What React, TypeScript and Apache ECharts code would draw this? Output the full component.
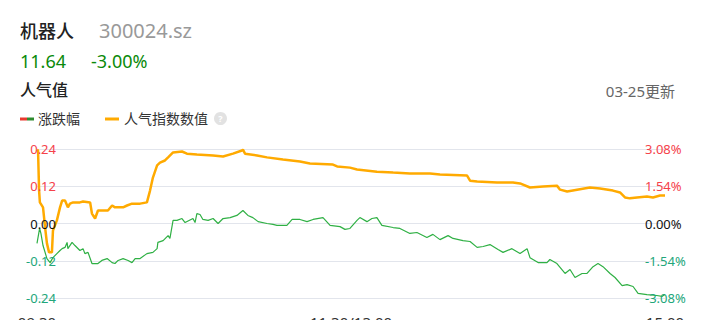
import React, { useEffect, useRef } from "react";
import * as echarts from "echarts";

// minutes since 09:30 (trading minutes, 0..240) and values
const heatMinutes = [0, 0.4, 0.8, 1.1, 2.3, 3.1, 3.8, 4.6, 5.7, 6.1, 7.6, 8.8, 9.6, 10.7, 11.8, 12.6, 13.8, 16.4, 17.6, 20.3, 21.0, 22.2, 23.3, 25.2, 27.1, 28.7, 29.8, 31.0, 32.9, 34.4, 36.3, 39.4, 42.0, 43.2, 44.3, 45.9, 47.0, 48.9, 50.1, 52.0, 55.4, 57.3, 61.1, 67.3, 71.1, 74.9, 78.3, 78.7, 79.5, 84.1, 87.9, 94.0, 100.5, 104.3, 113.1, 114.7, 119.6, 122.3, 129.9, 136.1, 142.5, 150.2, 154.0, 164.3, 165.5, 168.2, 175.8, 181.9, 184.6, 188.4, 193.4, 198.7, 199.9, 202.6, 206.4, 211.3, 215.2, 220.1, 222.8, 224.7, 226.6, 229.3, 233.1, 235.4, 238.1, 240];
const heatValues = [0.238, 0.235, 0.106, 0.068, 0.052, -0.013, -0.064, -0.093, -0.093, -0.023, 0.010, 0.052, 0.074, 0.074, 0.052, 0.064, 0.068, 0.068, 0.071, 0.068, 0.032, 0.016, 0.042, 0.042, 0.042, 0.058, 0.052, 0.052, 0.052, 0.058, 0.064, 0.064, 0.068, 0.106, 0.148, 0.187, 0.196, 0.203, 0.213, 0.229, 0.232, 0.225, 0.222, 0.219, 0.216, 0.225, 0.235, 0.238, 0.225, 0.219, 0.213, 0.206, 0.200, 0.193, 0.190, 0.184, 0.180, 0.174, 0.167, 0.164, 0.161, 0.161, 0.158, 0.155, 0.138, 0.135, 0.132, 0.132, 0.129, 0.116, 0.119, 0.122, 0.109, 0.103, 0.109, 0.116, 0.113, 0.106, 0.100, 0.084, 0.081, 0.084, 0.087, 0.084, 0.090, 0.090];

const changeMinutes = [0, 1.0, 1.5, 2.3, 3.8, 5.0, 6.1, 7.6, 8.8, 9.6, 10.7, 11.5, 11.8, 13.4, 14.5, 16.4, 17.6, 18.3, 19.5, 21.0, 23.3, 24.8, 26.8, 28.7, 29.8, 31.0, 32.9, 34.8, 36.3, 37.5, 39.4, 42.0, 44.3, 45.9, 46.2, 48.2, 50.1, 50.8, 52.0, 53.5, 55.4, 56.6, 59.6, 60.4, 61.1, 62.3, 63.4, 65.4, 67.3, 69.2, 71.1, 73.8, 76.4, 78.7, 80.6, 82.5, 84.5, 87.9, 90.2, 91.7, 95.5, 97.5, 100.5, 103.2, 105.5, 109.3, 112.0, 115.8, 117.7, 119.6, 122.3, 123.4, 126.1, 128.0, 129.9, 131.8, 136.1, 138.7, 142.5, 145.2, 149.0, 151.3, 154.0, 157.1, 159.0, 162.8, 165.5, 168.2, 170.5, 173.1, 176.2, 178.1, 181.5, 184.6, 187.3, 188.4, 191.5, 194.9, 196.0, 198.7, 201.8, 203.7, 205.6, 208.3, 210.2, 212.5, 214.4, 216.3, 219.0, 220.9, 223.6, 225.5, 227.8, 229.7, 233.1, 236.9, 238.8, 240];
const changeValues = [-0.064, -0.016, -0.032, -0.071, -0.113, -0.126, -0.110, -0.097, -0.087, -0.081, -0.077, -0.061, -0.081, -0.061, -0.071, -0.087, -0.081, -0.097, -0.093, -0.129, -0.129, -0.119, -0.113, -0.126, -0.129, -0.119, -0.113, -0.119, -0.126, -0.113, -0.113, -0.097, -0.093, -0.081, -0.061, -0.055, -0.039, -0.048, 0.010, 0.010, 0.016, 0.003, 0.016, 0.003, 0.032, 0.029, 0.013, 0.010, 0.016, 0.000, 0.016, 0.019, 0.026, 0.042, 0.026, 0.019, 0.006, 0.000, -0.003, -0.006, -0.006, 0.013, 0.013, 0.006, 0.013, 0.019, -0.006, -0.010, -0.019, -0.016, 0.010, 0.019, 0.006, 0.016, 0.019, -0.006, -0.013, -0.016, -0.032, -0.029, -0.045, -0.035, -0.052, -0.039, -0.048, -0.055, -0.058, -0.077, -0.074, -0.068, -0.084, -0.093, -0.081, -0.097, -0.081, -0.110, -0.126, -0.126, -0.116, -0.129, -0.161, -0.148, -0.174, -0.161, -0.161, -0.139, -0.129, -0.139, -0.161, -0.174, -0.200, -0.197, -0.203, -0.225, -0.229, -0.232, -0.235, -0.229];

const xTickLabels: Record<number, string> = { 0: "09:30", 120: "11:30/13:00", 240: "15:00" };

const RED = "#f5414a";
const GREEN_TXT = "#22a67a";
const ORANGE = "#ffaa00";
const GREEN_LINE = "#2fb044";
const FONT = "'Noto Sans', 'Noto Sans CJK SC', sans-serif";

export default function App() {
  const ref = useRef<HTMLDivElement>(null);
  useEffect(() => {
    if (!ref.current) return;
    const chart = echarts.init(ref.current, undefined, { renderer: "svg" });
    const labelColor = (v: any) => {
      const n = Number(v);
      if (n > 0.0001) return RED;
      if (n < -0.0001) return GREEN_TXT;
      return "#111";
    };
    const hidden = { show: false };
    chart.setOption({
      animation: false,
      textStyle: { fontFamily: FONT },
      grid: { left: 37, top: 149, width: 628, height: 149, containLabel: false, outerBoundsMode: "none" },
      xAxis: {
        type: "value",
        min: 0,
        max: 240,
        interval: 120,
        axisLine: hidden,
        axisTick: hidden,
        splitLine: hidden,
        axisLabel: {
          margin: 16,
          fontSize: 15,
          color: "#333",
          formatter: (v: number) => xTickLabels[v] ?? "",
        },
      },
      yAxis: [
        {
          // grid lines only (drawn below the series)
          type: "value",
          min: -0.24,
          max: 0.24,
          interval: 0.12,
          axisLine: hidden,
          axisTick: hidden,
          axisLabel: hidden,
          splitLine: { lineStyle: { color: "#e2e5ec", width: 1 } },
        },
        {
          // left labels (drawn above the series)
          type: "value",
          min: -0.24,
          max: 0.24,
          interval: 0.12,
          position: "left",
          z: 5,
          axisLine: hidden,
          axisTick: hidden,
          splitLine: hidden,
          axisLabel: {
            margin: -19,
            fontSize: 13,
            color: labelColor,
            formatter: (v: number) => v.toFixed(2),
          },
        },
        {
          type: "value",
          min: -3.08,
          max: 3.08,
          interval: 1.54,
          position: "right",
          z: 5,
          axisLine: hidden,
          axisTick: hidden,
          splitLine: hidden,
          axisLabel: {
            margin: -20,
            fontSize: 13,
            color: labelColor,
            formatter: (v: number) => v.toFixed(2) + "%",
          },
        },
      ],
      series: [
        {
          name: "人气指数数值",
          type: "line",
          yAxisIndex: 0,
          showSymbol: false,
          symbol: "none",
          lineStyle: { color: ORANGE, width: 2.5 },
          data: heatMinutes.map((m, i) => [m, heatValues[i]]),
          z: 3,
        },
        {
          name: "涨跌幅",
          type: "line",
          yAxisIndex: 0,
          showSymbol: false,
          symbol: "none",
          lineStyle: { color: GREEN_LINE, width: 1.2 },
          data: changeMinutes.map((m, i) => [m, changeValues[i]]),
          z: 2,
        },
      ],
      graphic: [
        { type: "text", x: 20, y: 22, style: { text: "机器人", fill: "#222", font: "500 18px " + FONT } },
        { type: "text", x: 99, y: 20, style: { text: "300024.sz", fill: "#999", font: "20px " + FONT } },
        { type: "text", x: 20, y: 52, style: { text: "11.64", fill: "#0a8a0a", font: "18px " + FONT } },
        { type: "text", x: 91, y: 52, style: { text: "-3.00%", fill: "#0a8a0a", font: "18px " + FONT } },
        { type: "text", x: 20, y: 82, style: { text: "人气值", fill: "#222", font: "500 16px " + FONT } },
        { type: "text", x: 675, y: 83, style: { text: "03-25更新", fill: "#666", font: "15px " + FONT, align: "right" } },
        { type: "rect", shape: { x: 20, y: 117.5, width: 7, height: 3 }, style: { fill: "#e8392f" } },
        { type: "rect", shape: { x: 27, y: 117.5, width: 7, height: 3 }, style: { fill: "#2e8b2e" } },
        { type: "text", x: 38, y: 111, style: { text: "涨跌幅", fill: "#333", font: "14px " + FONT } },
        { type: "rect", shape: { x: 105, y: 117.5, width: 14, height: 3 }, style: { fill: ORANGE } },
        { type: "text", x: 124, y: 111, style: { text: "人气指数数值", fill: "#333", font: "14px " + FONT } },
        { type: "circle", shape: { cx: 220.5, cy: 118.5, r: 6.5 }, style: { fill: "#e2e2e2" } },
        { type: "text", x: 220.5, y: 118.5, style: { text: "?", fill: "#fff", font: "bold 9px " + FONT, align: "center", verticalAlign: "middle" } },
      ],
    });
    return () => chart.dispose();
  }, []);
  return <div ref={ref} style={{ position: "fixed", left: 0, top: 0, width: 707, height: 320, background: "#fff" }} />;
}
